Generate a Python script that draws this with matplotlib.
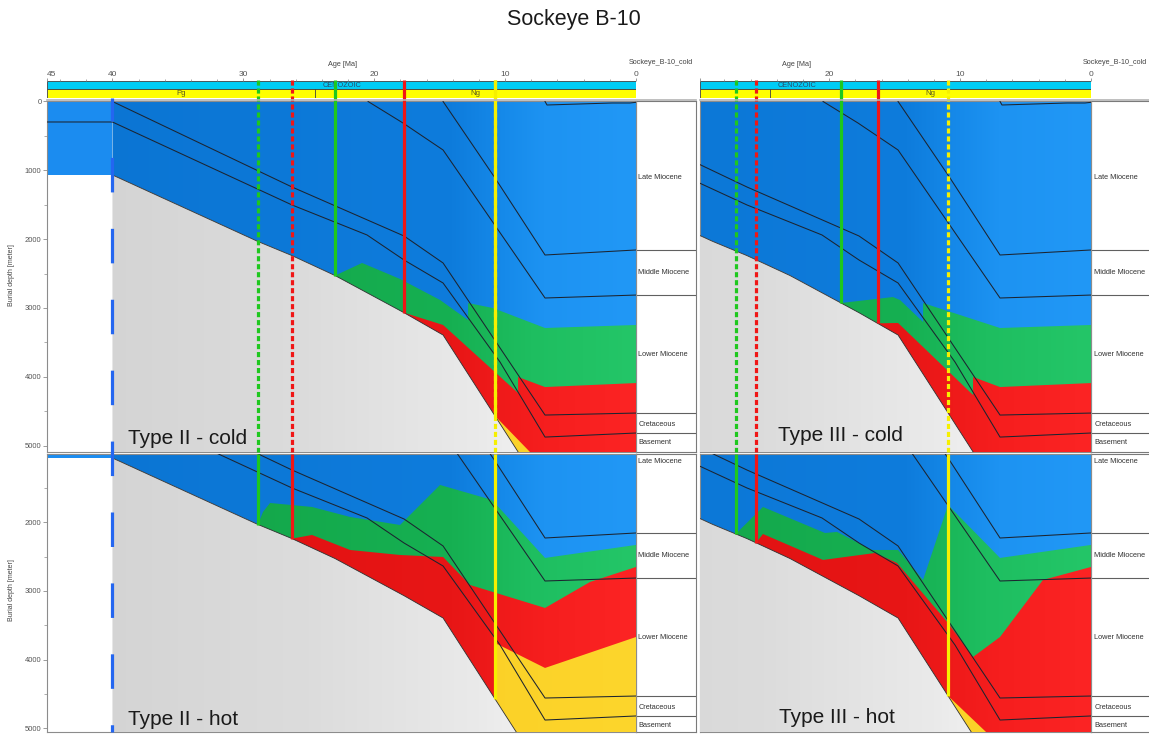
import numpy as np
import matplotlib.pyplot as plt
from matplotlib.patches import Polygon, Rectangle
from matplotlib.lines import Line2D

plt.rcParams['font.family'] = ['Liberation Sans', 'DejaVu Sans']

W, H = 1149, 734

# burial curve of the section base (age in Ma, depth in m)
base_age = [40.0, 28.88, 26.28, 22.99, 17.72, 14.74, 9.05, 7.5, 6.0, 0.0]
base_depth = [1068, 2035, 2240, 2530, 3070, 3394, 5080, 5560, 6040, 6500]

# horizon burial lines
hz_cretaceous = ([40, 26.28, 17.72, 14.74, 6.95, 0], [0, 1243, 1955, 2347, 4557, 4528])
hz_basement = ([45, 40, 26.28, 20.55, 17.72, 14.74, 10.39, 6.95, 0],
               [298, 298, 1504, 1940, 2304, 2638, 3786, 4877, 4818])
hz_lower = ([20.47, 17.8, 14.74, 6.95, 0], [0, 313, 705, 2856, 2813])
hz_middle = ([14.74, 10.77, 6.95, 0], [0, 1112, 2231, 2158])
hz_late = ([6.95, 6.8, 1.83, 0.46, 0], [0, 51, 22, 22, 12])
horizons = [hz_cretaceous, hz_basement, hz_lower, hz_middle, hz_late]

water_depth = 1068  # pre-40 Ma column

formations = ['Late Miocene', 'Middle Miocene', 'Lower Miocene', 'Cretaceous', 'Basement']
formation_top = [0, 2158, 2813, 4528, 4818]
label_depth_top = [1112, 2490, 3680, 4700, 4960]
label_depth_bottom = [1121, 2490, 3680, 4700, 4960]

# maturity zone tops: (start age on base, [(age, depth), ...])
tl_zones = {
    'green': (22.99, [(20.93, 2347), (18.03, 2579), (14.97, 2885), (12.83, 3176), (12.83, 2929),
                      (10.92, 3002), (6.95, 3292), (0, 3248)]),
    'red': (17.72, [(14.74, 3248), (9.01, 4237), (9.01, 4004), (6.95, 4150), (0, 4092)]),
    'yellow': (10.77, [(8.1, 5094), (7.0, 5400), (0, 5400)]),
}
tr_zones = {
    'green': (19.10, [(15.13, 2842), (14.59, 2885), (12.83, 3205), (12.83, 2929),
                      (6.95, 3292), (0, 3248)]),
    'red': (16.30, [(14.74, 3219), (9.01, 4266), (9.01, 4004), (6.95, 4150), (0, 4092)]),
}
bl_zones = {
    'green': (28.88, [(28.5, 1853), (27.96, 1722), (24.75, 1780), (21.85, 1925), (18.03, 2042),
                      (14.97, 1460), (11.0, 1678), (6.95, 2521), (0, 2332)]),
    'red': (26.28, [(24.75, 2187), (21.85, 2405), (18.03, 2478), (14.74, 2507), (12.68, 2914),
                    (6.95, 3248), (3.51, 2870), (0, 2652)]),
    'yellow': (10.77, [(10.77, 3757), (6.95, 4120), (0, 3670)]),
}
br_zones = {
    'green': (27.14, [(25.06, 1780), (20.32, 2158), (19.40, 2143), (16.73, 2405), (14.74, 2405),
                      (12.83, 2841), (10.92, 1751), (6.95, 2521), (0, 2332)]),
    'red': (25.59, [(25.06, 2173), (20.47, 2550), (16.50, 2449), (14.82, 2594), (10.92, 3466),
                    (9.01, 3960), (6.95, 3670), (3.67, 2841), (0, 2652)]),
    'yellow': (10.92, [(7.94, 5065), (7.0, 5400), (0, 5400)]),
}

# timing marks: (age, colour, style, end)
tl_marks = [(28.88, 'g', 'dash', 'full'), (26.28, 'r', 'dash', 'full'), (22.99, 'g', 'solid', 'base'),
            (17.72, 'r', 'solid', 'base'), (10.77, 'y', 'dash', 'full'), (10.77, 'y', 'solid', 'base')]
bl_marks = [(28.88, 'g', 'solid', 'base'), (26.28, 'r', 'solid', 'base'), (10.77, 'y', 'solid', 'base')]
tr_marks = [(27.14, 'g', 'dash', 'full'), (25.59, 'r', 'dash', 'full'), (19.10, 'g', 'solid', 'base'),
            (16.30, 'r', 'solid', 'base'), (10.92, 'y', 'dash', 'full')]
br_marks = [(27.14, 'g', 'solid', 'base'), (25.59, 'r', 'solid', 'base'), (10.92, 'y', 'solid', 'base')]

mark_colors = {'g': '#1ec81e', 'r': '#f01616', 'y': '#f6f000'}

blue_stops = [(45, (11, 116, 210)), (14, (14, 124, 220)), (10, (22, 138, 234)), (7, (29, 147, 242)), (0, (33, 152, 246))]
zone_stops = {
    'green': [(45, (18, 160, 68)), (14, (22, 176, 82)), (8, (30, 190, 96)), (0, (36, 198, 104))],
    'red': [(45, (218, 14, 14)), (14, (232, 22, 22)), (7, (246, 30, 30)), (0, (252, 36, 36))],
    'yellow': [(45, (246, 196, 26)), (0, (253, 214, 44))],
}
grey_stops = [(45, (210, 210, 210)), (25, (220, 220, 220)), (12, (234, 234, 234)), (6, (244, 244, 244))]

AGE_GRID = np.linspace(46, -1, 600)

fig = plt.figure(figsize=(W / 100, H / 100), dpi=100)


def px_axes(x0, y0, x1, y1, z=2):
    ax = fig.add_axes([x0 / W, 1 - y1 / H, (x1 - x0) / W, (y1 - y0) / H])
    ax.set_zorder(z)
    return ax


def base_at(a):
    return float(np.interp(a, base_age[::-1], base_depth[::-1]))


def shade(ax, verts, stops, z):
    poly = Polygon(verts, closed=True, facecolor='none', edgecolor='none')
    ax.add_patch(poly)
    sa = np.array([s[0] for s in stops], float)
    sc = np.array([s[1] for s in stops], float) / 255
    o = np.argsort(sa)
    rgb = np.stack([np.interp(AGE_GRID, sa[o], sc[o, k]) for k in range(3)], -1)
    im = ax.imshow(rgb[None], extent=(46, -1, 9000, -600), aspect='auto',
                   interpolation='bilinear', zorder=z)
    im.set_clip_path(poly)


def draw_panel(ax, amax, dlim, zones, marks, top):
    base_pts = list(zip(base_age, base_depth))
    # sediment column above the base
    shade(ax, [(40, -600), (-1, -600), (-1, 6500)] + base_pts[::-1], blue_stops, 1)
    if amax > 40:
        ax.add_patch(Rectangle((40, 0), 5, water_depth, facecolor='#1b8cf0', edgecolor='none', zorder=1.5))
    z = 2
    for key in ('green', 'red', 'yellow'):
        if key not in zones:
            continue
        a0, pts = zones[key]
        verts = [(a0, base_at(a0))] + pts + [(-1, pts[-1][1]), (-1, 9000), (a0, 9000)]
        shade(ax, verts, zone_stops[key], z)
        z += 1
    shade(ax, base_pts + [(-1, 6500), (-1, 9000), (40, 9000)], grey_stops, 5)
    ax.plot(base_age, base_depth, color='#303030', lw=0.6, zorder=6)
    for ages, depths in horizons:
        ax.plot(ages, depths, color='#1c2430', lw=0.75, zorder=6)
    for a, c, style, end in marks:
        y0 = -312 if top else dlim[1]
        y1 = base_at(a) if end == 'base' else dlim[0]
        kw = dict(color=mark_colors[c], lw=2.3, zorder=8, solid_capstyle='butt', clip_on=not top)
        if style == 'dash':
            kw['linestyle'] = (0, (1.6, 0.9))
        ax.plot([a, a], [y0, y1], **kw)
    ax.set_xlim(amax, 0)
    ax.set_ylim(*dlim)
    ax.set_xticks([])
    for s in ax.spines.values():
        s.set_color('#8c8c8c')
        s.set_linewidth(0.8)


def depth_axis(ax, major, minor):
    ax.set_yticks(major, [str(v) for v in major])
    ax.set_yticks(minor, minor=True)
    ax.tick_params(axis='y', which='major', labelsize=5.5, colors='#8c8c8c', labelcolor='#555555',
                   length=3, width=0.6, pad=1)
    ax.tick_params(axis='y', which='minor', colors='#8c8c8c', length=2, width=0.5)


def label_column(x0, y0, x1, y1, dlim, label_depths):
    ax = px_axes(x0, y0, x1, y1, z=2)
    ax.set_xlim(0, 1)
    ax.set_ylim(*dlim)
    ax.set_xticks([])
    ax.set_yticks([])
    for d in formation_top[1:]:
        ax.axhline(d, color='#606060', lw=0.8)
    for name, d in zip(formations, label_depths):
        ax.text(0.04, d, name, ha='left', va='center', fontsize=5.3, color='#333333')
    for s in ax.spines.values():
        s.set_color('#7a7a7a')
        s.set_linewidth(0.8)


def strat_bar(x0, x1, amax, ticks, labels, minor):
    ax = px_axes(x0, 81, x1, 97.7, z=1)
    ax.set_xlim(amax, 0)
    ax.set_ylim(0, 2)
    ax.add_patch(Rectangle((0, 1), amax, 1, facecolor='#00ccf5', edgecolor='#404040', lw=0.6))
    ax.add_patch(Rectangle((0, 0), amax, 1, facecolor='#ffff00', edgecolor='#404040', lw=0.6))
    ax.plot([24.5, 24.5], [0, 1], color='#404040', lw=0.6)
    ax.text(22.46, 1.5, 'CENOZOIC', ha='center', va='center', fontsize=5.3, color='#2a4a6a')
    if amax > 34.75:
        ax.text(34.75, 0.45, 'Pg', ha='center', va='center', fontsize=5.6, color='#5a5a20')
    ax.text(12.25, 0.45, 'Ng', ha='center', va='center', fontsize=5.6, color='#5a5a20')
    ax.xaxis.tick_top()
    ax.set_xticks(ticks, labels)
    ax.set_xticks(minor, minor=True)
    ax.set_yticks([])
    ax.tick_params(axis='x', which='major', labelsize=6, colors='#888888', labelcolor='#555555',
                   length=2.5, width=0.6, pad=0)
    ax.tick_params(axis='x', which='minor', colors='#888888', length=1.5, width=0.5)
    if labels and labels[0] == '45':
        ax.get_xticklabels()[0].set_ha('left')
    for s in ax.spines.values():
        s.set_visible(False)


TOP = (5094, -7)
BOT = (5051, 1010)

tl = px_axes(47, 101, 636, 452, z=3)
draw_panel(tl, 45, TOP, tl_zones, tl_marks, True)
depth_axis(tl, [0, 1000, 2000, 3000, 4000, 5000], [500, 1500, 2500, 3500, 4500])

bl = px_axes(47, 454, 636, 732, z=3)
draw_panel(bl, 45, BOT, bl_zones, bl_marks, False)
depth_axis(bl, [2000, 3000, 4000, 5000], [1500, 2500, 3500, 4500])

tr = px_axes(700, 101, 1091, 452, z=3)
draw_panel(tr, 29.87, TOP, tr_zones, tr_marks, True)
tr.set_yticks([])

br = px_axes(700, 454, 1091, 732, z=3)
draw_panel(br, 29.87, BOT, br_zones, br_marks, False)
br.set_yticks([])

label_column(636, 101, 696, 452, TOP, label_depth_top)
label_column(636, 454, 696, 732, BOT, label_depth_bottom)
label_column(1091, 101, 1170, 452, TOP, label_depth_top)
label_column(1091, 454, 1170, 732, BOT, label_depth_bottom)

minor_left = [a for a in range(44, 0, -2)]
strat_bar(47, 636, 45, [45, 40, 30, 20, 10, 0], ['45', '40', '30', '20', '10', '0'], minor_left)
strat_bar(700, 1091, 29.87, [29.87, 20, 10, 0], ['', '20', '10', '0'], [a for a in range(28, 0, -2)])

# grey rule under the stratigraphic bars
for x0, x1 in ((47, 696), (700, 1149)):
    fig.add_artist(Line2D([x0 / W, x1 / W], [1 - 99.5 / H] * 2, color='#b4b4b4', lw=1.2, zorder=4))

# long dashed marker at the start of deposition (40 Ma)
x40 = 47 + 5 * 589 / 45
fig.add_artist(Line2D([x40 / W] * 2, [1 - 98 / H, 1 - 732 / H], color='#2466f0', lw=2.3,
                      linestyle=(3.6, (10.8, 11.4)), zorder=10))

# texts
fig.text(574 / W, 1 - 20 / H, 'Sockeye B-10', ha='center', va='center', fontsize=15.5, color='#1a1a1a')
for x in (342, 797):
    fig.text(x / W, 1 - 64 / H, 'Age [Ma]', ha='center', va='center', fontsize=5.2, color='#444444')
for x in (693, 1147):
    fig.text(x / W, 1 - 62 / H, 'Sockeye_B-10_cold', ha='right', va='center', fontsize=5.2, color='#444444')
for y in (275, 590):
    fig.text(12 / W, 1 - y / H, 'Burial depth [meter]', rotation=90, ha='center', va='center',
             fontsize=5, color='#444444')

panel_labels = [(128, 443.5, 'Type II - cold'), (778, 441, 'Type III - cold'),
                (128, 725, 'Type II - hot'), (779, 723, 'Type III - hot')]
for x, y, t in panel_labels:
    fig.text(x / W, 1 - y / H, t, ha='left', va='baseline', fontsize=15, color='#1a1a1a', zorder=20)

fig.savefig('out.png', dpi=100)
